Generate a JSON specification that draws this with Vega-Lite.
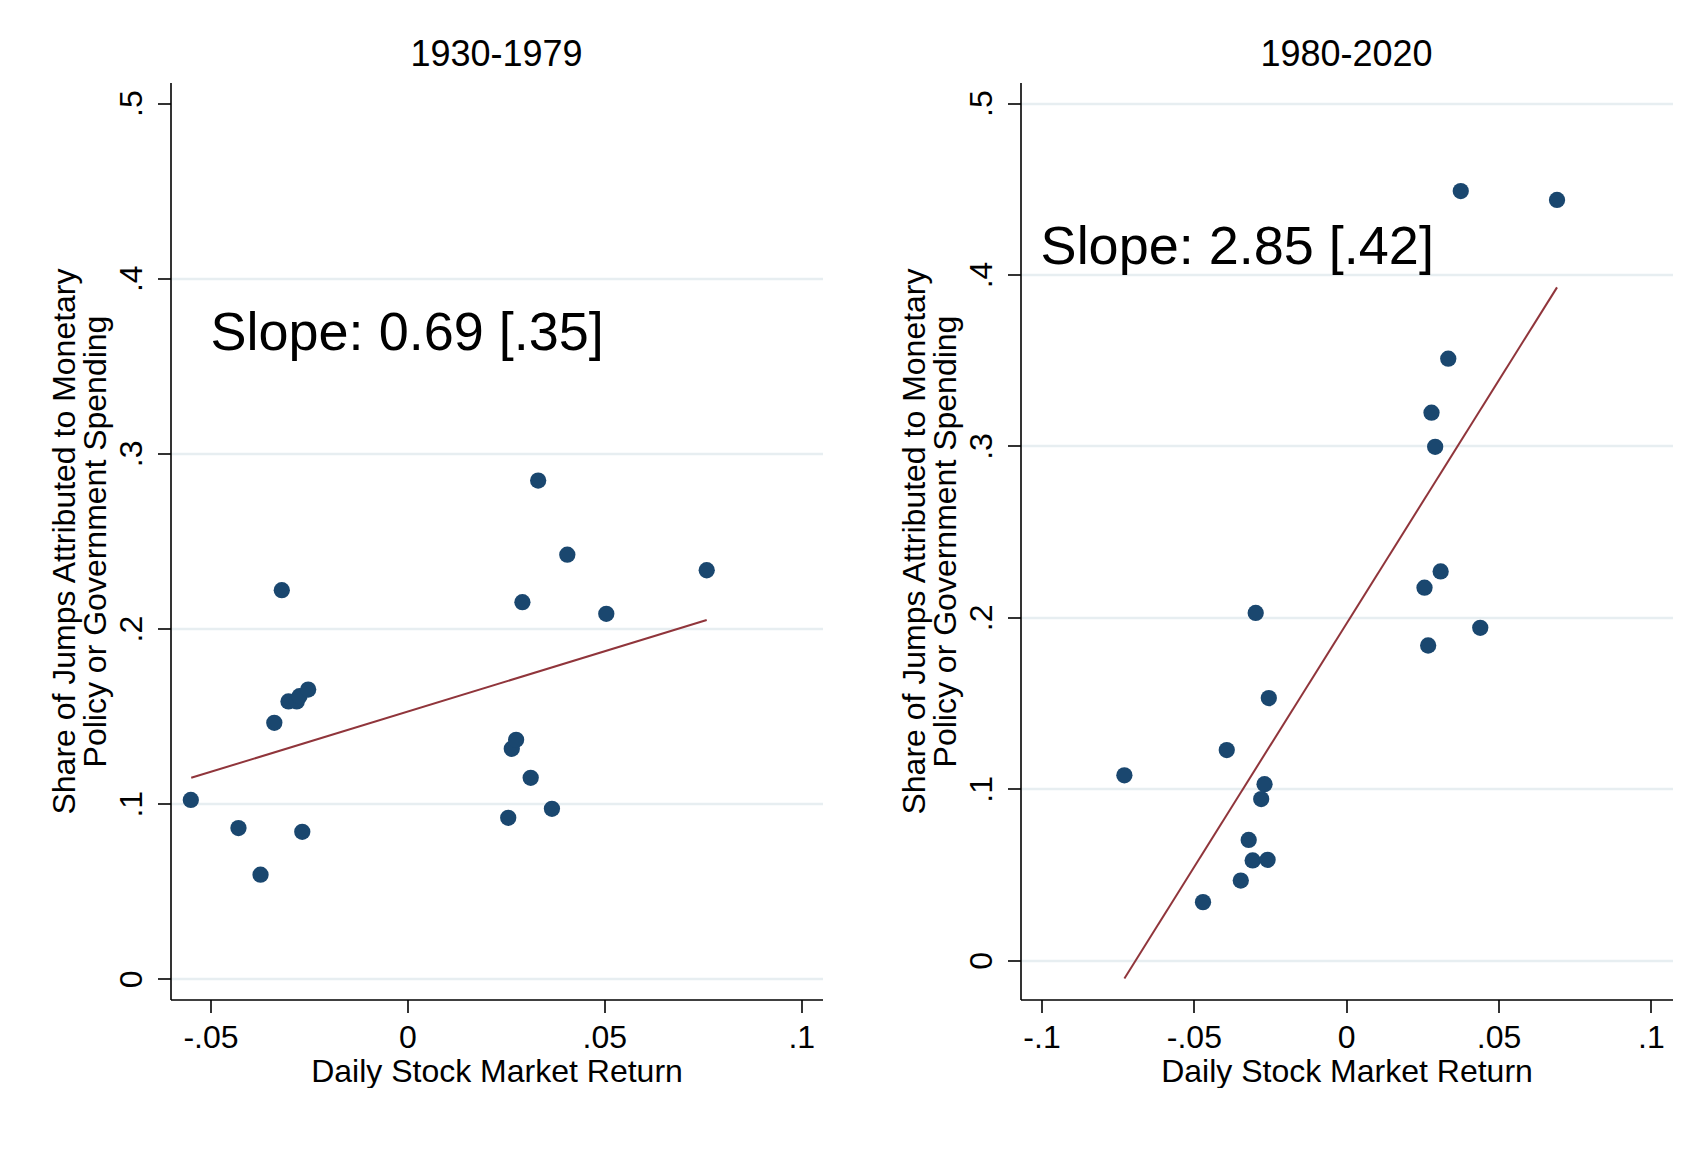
{
  "$schema": "https://vega.github.io/schema/vega-lite/v6.json",
  "background": "white",
  "padding": {"left": 48.5, "top": 36.5, "right": 0, "bottom": 0},
  "datasets": {
    "early": [
      {"ret": -0.0550, "share": 0.1022},
      {"ret": -0.0429, "share": 0.0861},
      {"ret": -0.0373, "share": 0.0595},
      {"ret": -0.0338, "share": 0.1462},
      {"ret": -0.0319, "share": 0.2219},
      {"ret": -0.0302, "share": 0.1584},
      {"ret": -0.0281, "share": 0.1584},
      {"ret": -0.0274, "share": 0.1614},
      {"ret": -0.0252, "share": 0.1652},
      {"ret": -0.0267, "share": 0.0840},
      {"ret": 0.0256, "share": 0.0920},
      {"ret": 0.0265, "share": 0.1314},
      {"ret": 0.0276, "share": 0.1365},
      {"ret": 0.0292, "share": 0.2151},
      {"ret": 0.0313, "share": 0.1148},
      {"ret": 0.0332, "share": 0.2845},
      {"ret": 0.0367, "share": 0.0971},
      {"ret": 0.0406, "share": 0.2422},
      {"ret": 0.0505, "share": 0.2084},
      {"ret": 0.0760, "share": 0.2333}
    ],
    "early_fit": [
      {"ret": -0.0549, "share": 0.1148},
      {"ret": 0.0760, "share": 0.2049}
    ],
    "early_label": [
      {"ret": -0.0500, "share": 0.3593, "label": "Slope: 0.69 [.35]"}
    ],
    "late": [
      {"ret": -0.0728, "share": 0.1079},
      {"ret": -0.0470, "share": 0.0339},
      {"ret": -0.0392, "share": 0.1226},
      {"ret": -0.0346, "share": 0.0465},
      {"ret": -0.0320, "share": 0.0702},
      {"ret": -0.0307, "share": 0.0582},
      {"ret": -0.0297, "share": 0.2026},
      {"ret": -0.0279, "share": 0.0940},
      {"ret": -0.0268, "share": 0.1027},
      {"ret": -0.0258, "share": 0.0586},
      {"ret": -0.0254, "share": 0.1529},
      {"ret": 0.0257, "share": 0.2173},
      {"ret": 0.0269, "share": 0.1836},
      {"ret": 0.0280, "share": 0.3194},
      {"ret": 0.0292, "share": 0.2995},
      {"ret": 0.0310, "share": 0.2268},
      {"ret": 0.0335, "share": 0.3509},
      {"ret": 0.0376, "share": 0.4487},
      {"ret": 0.0440, "share": 0.1939},
      {"ret": 0.0692, "share": 0.4435}
    ],
    "late_fit": [
      {"ret": -0.0728, "share": -0.0106},
      {"ret": 0.0692, "share": 0.3925}
    ],
    "late_label": [
      {"ret": -0.1003, "share": 0.4059, "label": "Slope: 2.85 [.42]"}
    ]
  },
  "spacing": 76,
  "hconcat": [
    {
      "width": 652,
      "height": 917,
      "title": {"text": "1930-1979", "fontSize": 36, "fontWeight": "normal", "offset": 8.5, "anchor": "middle", "frame": "group", "color": "black"},
      "encoding": {
        "x": {"field": "ret", "type": "quantitative",
              "scale": {"domain": [-0.06016, 0.1054], "nice": false, "zero": false},
              "axis": {"title": "Daily Stock Market Return", "values": [-0.05, 0, 0.05, 0.1],
                       "labelExpr": "(datum.value < 0 ? '-' : '') + replace(format(abs(datum.value), '~g'), '0.', '.')"}},
        "y": {"field": "share", "type": "quantitative",
              "scale": {"domain": [-0.01175, 0.51175], "nice": false, "zero": false},
              "axis": {"title": ["Share of Jumps Attributed to Monetary", "Policy or Government Spending"],
                       "values": [0, 0.1, 0.2, 0.3, 0.4, 0.5],
                       "gridColor": {"condition": {"test": "datum.value > 0.45", "value": "transparent"}, "value": "#e7eef1"},
                       "labelExpr": "(datum.value < 0 ? '-' : '') + replace(format(abs(datum.value), '~g'), '0.', '.')"}}
      },
      "layer": [
        {"data": {"name": "early"}, "mark": {"type": "circle", "size": 265, "color": "#1a476f", "opacity": 1}},
        {"data": {"name": "early_fit"}, "mark": {"type": "line", "color": "#90353b", "strokeWidth": 2}},
        {"data": {"name": "early_label"}, "mark": {"type": "text", "fontSize": 54, "align": "left", "baseline": "alphabetic", "color": "black"},
         "encoding": {"text": {"field": "label"}}}
      ]
    },
    {
      "width": 652,
      "height": 917,
      "title": {"text": "1980-2020", "fontSize": 36, "fontWeight": "normal", "offset": 8.5, "anchor": "middle", "frame": "group", "color": "black"},
      "encoding": {
        "x": {"field": "ret", "type": "quantitative",
              "scale": {"domain": [-0.1069, 0.1071], "nice": false, "zero": false},
              "axis": {"title": "Daily Stock Market Return", "values": [-0.1, -0.05, 0, 0.05, 0.1],
                       "labelExpr": "(datum.value < 0 ? '-' : '') + replace(format(abs(datum.value), '~g'), '0.', '.')"}},
        "y": {"field": "share", "type": "quantitative",
              "scale": {"domain": [-0.0229, 0.512], "nice": false, "zero": false},
              "axis": {"title": ["Share of Jumps Attributed to Monetary", "Policy or Government Spending"],
                       "values": [0, 0.1, 0.2, 0.3, 0.4, 0.5],
                       "labelExpr": "(datum.value < 0 ? '-' : '') + replace(format(abs(datum.value), '~g'), '0.', '.')"}}
      },
      "layer": [
        {"data": {"name": "late"}, "mark": {"type": "circle", "size": 265, "color": "#1a476f", "opacity": 1}},
        {"data": {"name": "late_fit"}, "mark": {"type": "line", "color": "#90353b", "strokeWidth": 2}},
        {"data": {"name": "late_label"}, "mark": {"type": "text", "fontSize": 54, "align": "left", "baseline": "alphabetic", "color": "black"},
         "encoding": {"text": {"field": "label"}}}
      ]
    }
  ],
  "config": {
    "font": "Liberation Sans",
    "view": {"stroke": null},
    "axis": {
      "domainColor": "black", "domainWidth": 1.6,
      "tickColor": "black", "tickWidth": 1.6, "tickSize": 13,
      "labelFontSize": 32, "labelColor": "black", "labelFont": "Liberation Sans",
      "titleFontSize": 32, "titleFontWeight": "normal", "titleColor": "black", "titleFont": "Liberation Sans",
      "gridColor": "#e7eef1", "gridWidth": 2.5
    },
    "axisX": {"grid": false, "labelPadding": 10, "titlePadding": 3, "labelFlush": false, "labelOverlap": false},
    "axisY": {"grid": true, "labelAngle": -90, "labelAlign": "center", "labelBaseline": "bottom", "labelPadding": 9, "titlePadding": 3, "titleLineHeight": 31, "labelFlush": false, "labelOverlap": false}
  }
}
